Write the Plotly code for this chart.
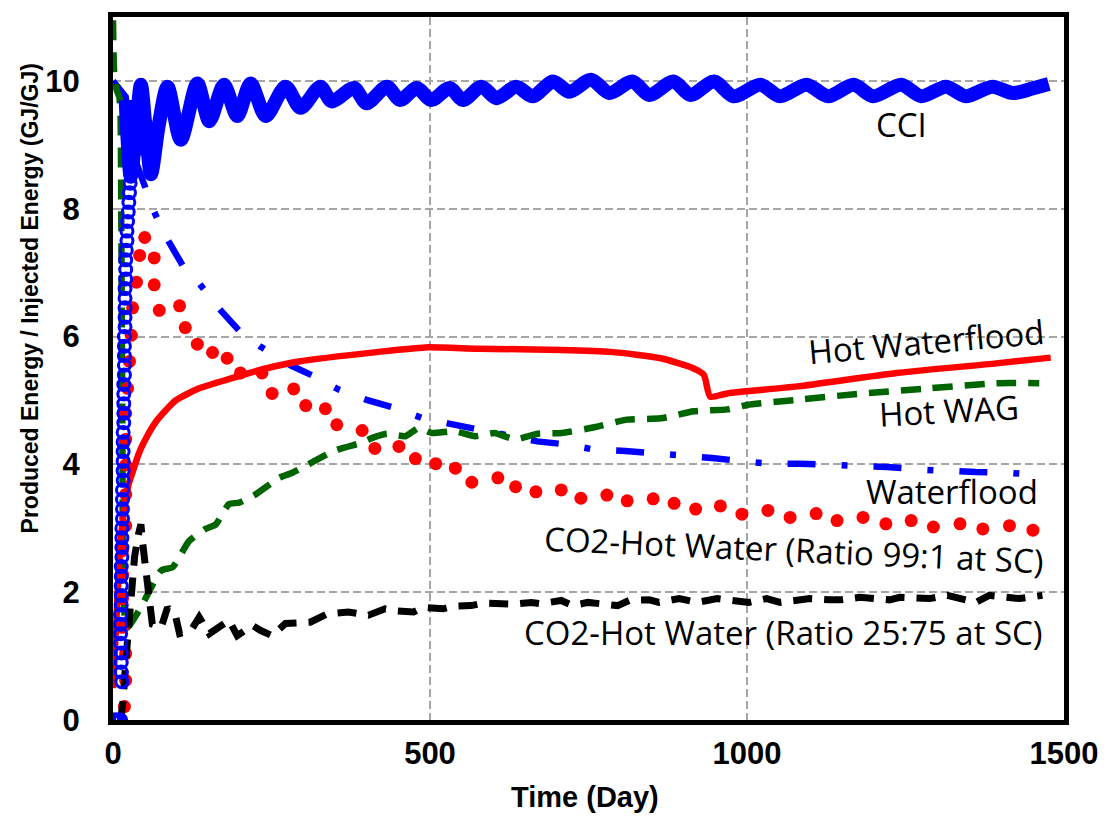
import plotly.graph_objects as go

# ---------------- data ----------------
# CCI (thick oscillating line)
cci_t = [20, 28, 36, 44, 52, 60, 72, 86, 107, 133, 152, 175, 196, 217, 241, 272, 296, 327, 345, 380,
         400, 432, 453, 479, 502, 531, 552, 581, 605, 636, 662, 694, 720, 754, 783, 819, 846, 884,
         911, 948, 979, 1021, 1052, 1094, 1128, 1168, 1199, 1243, 1275, 1314, 1345, 1387, 1419, 1450, 1476]
cci_v = [9.70, 8.50, 9.20, 9.94, 9.20, 8.54, 9.30, 9.91, 9.08, 9.96, 9.37, 9.94, 9.45, 9.96, 9.45, 9.91,
         9.58, 9.91, 9.68, 9.89, 9.65, 9.91, 9.70, 9.89, 9.70, 9.89, 9.70, 9.91, 9.73, 9.91, 9.76, 9.99,
         9.83, 10.02, 9.81, 9.99, 9.78, 9.99, 9.78, 9.99, 9.76, 9.94, 9.76, 9.94, 9.76, 9.94, 9.76, 9.94,
         9.76, 9.91, 9.76, 9.91, 9.81, 9.88, 9.95]

# CCI early points (open circle markers)
cci_pts_t = [0, 3, 6, 9, 12, 14, 13, 13, 13, 12, 12, 12, 12, 13, 13, 13, 13, 13, 14, 14, 14, 14, 15, 15,
             15, 15, 16, 16, 16, 16, 16, 16, 17, 17, 17, 17, 17, 18, 18, 18, 18, 18, 19, 19, 19, 19, 19,
             20, 20, 20, 21, 22, 22, 23, 24, 25, 26, 27, 28, 29, 29, 30, 30, 31, 38, 41, 44, 47, 50, 53, 56]
cci_pts_v = [0, 0, 0, 0, 0, 0.60, 0.75, 0.90, 1.05, 1.20, 1.35, 1.50, 1.65, 1.80, 1.95, 2.10, 2.25, 2.40,
             2.55, 2.70, 2.85, 3.00, 3.15, 3.30, 3.45, 3.60, 3.75, 3.90, 4.05, 4.20, 4.35, 4.50, 4.65, 4.80,
             4.95, 5.10, 5.25, 5.40, 5.55, 5.70, 5.85, 6.00, 6.15, 6.30, 6.45, 6.60, 6.75, 6.90, 7.05, 7.20,
             7.35, 7.50, 7.65, 7.80, 7.95, 8.10, 8.25, 8.40, 8.55, 8.70, 8.85, 9.00, 9.15, 9.30, 9.45, 9.20,
             8.95, 9.10, 9.35, 9.20, 9.00]

# Hot Waterflood (solid red)
hwf_t = [0, 5, 10, 15, 20, 25, 31, 40, 47, 68, 99, 136, 188, 241, 293, 419, 492, 576, 707, 785,
         864, 916, 932, 942, 969, 1079, 1236, 1393, 1479]
hwf_v = [0.50, 1.50, 2.50, 3.10, 3.45, 3.70, 3.88, 4.15, 4.31, 4.67, 5.00, 5.19, 5.35, 5.50, 5.61,
         5.76, 5.83, 5.81, 5.79, 5.76, 5.66, 5.50, 5.40, 5.06, 5.11, 5.22, 5.43, 5.58, 5.67]

# Hot WAG (green dashed)
wag_t = [0, 2, 6, 10, 12, 13, 14, 15, 16, 20, 24, 47, 76, 94, 120, 146, 162, 183, 199, 225, 262, 283,
         351, 393, 408, 432, 461, 482, 503, 539, 571, 602, 634, 670, 707, 759, 811, 864, 916, 969,
         1000, 1079, 1183, 1288, 1393, 1461]
wag_v = [10.95, 10.10, 9.85, 9.75, 9.40, 8.00, 6.00, 4.00, 2.10, 1.50, 1.45, 1.82, 2.34, 2.39, 2.80,
         2.99, 3.06, 3.38, 3.40, 3.53, 3.79, 3.87, 4.22, 4.34, 4.41, 4.48, 4.44, 4.57, 4.49, 4.52,
         4.44, 4.49, 4.39, 4.48, 4.49, 4.58, 4.70, 4.72, 4.83, 4.86, 4.93, 5.01, 5.11, 5.19, 5.27, 5.27]

# Waterflood (blue dash-dot)
wf_t = [0, 8, 20, 30, 52, 65, 84, 110, 136, 167, 201, 233, 280, 319, 356, 400, 445, 489, 534, 581, 623,
        669, 717, 759, 808, 853, 898, 945, 992, 1037, 1084, 1131, 1176, 1221, 1270, 1312, 1361, 1408, 1453]
wf_v = [10.00, 9.90, 9.75, 8.90, 8.34, 7.95, 7.55, 7.11, 6.83, 6.44, 6.07, 5.84, 5.55, 5.37, 5.17, 5.01,
        4.88, 4.72, 4.63, 4.54, 4.47, 4.36, 4.31, 4.23, 4.21, 4.18, 4.13, 4.10, 4.05, 4.01, 4.01, 4.00,
        3.97, 3.96, 3.92, 3.89, 3.88, 3.87, 3.84]

# CO2-Hot Water (Ratio 99:1 at SC) (red dots)
c99_t = [18, 20, 20, 15, 15, 15, 15, 20, 20, 20, 20, 20, 23, 26, 29, 31, 37, 42, 50, 65, 65, 73, 105,
         114, 133, 157, 180, 201, 235, 251, 285, 304, 335, 353, 393, 413, 451, 477, 509, 540, 566, 607,
         635, 667, 707, 738, 779, 811, 852, 885, 919, 958, 992, 1033, 1068, 1109, 1142, 1183, 1219, 1259,
         1294, 1336, 1372, 1414, 1451]
c99_v = [0.21, 0.62, 1.04, 1.45, 1.90, 2.28, 2.65, 3.04, 3.53, 3.99, 4.39, 4.80, 5.19, 5.61, 6.02, 6.45,
         6.85, 7.27, 7.55, 7.23, 6.81, 6.41, 6.48, 6.14, 5.88, 5.75, 5.66, 5.43, 5.43, 5.11, 5.18, 4.92,
         4.87, 4.62, 4.53, 4.25, 4.28, 4.09, 4.01, 3.94, 3.72, 3.79, 3.65, 3.57, 3.60, 3.47, 3.52, 3.43,
         3.46, 3.39, 3.30, 3.35, 3.22, 3.28, 3.17, 3.23, 3.12, 3.17, 3.07, 3.12, 3.02, 3.07, 2.99, 3.04, 2.97]

# CO2-Hot Water (Ratio 25:75 at SC) (black dashed)
c25_t = [12, 16, 20, 24, 28, 31, 34, 40, 44, 47, 50, 55, 58, 62, 76, 86, 99, 105, 123, 136, 152, 167,
         183, 196, 220, 233, 251, 272, 293, 311, 338, 371, 403, 429, 445, 474, 489, 521, 537, 565, 584,
         618, 631, 660, 675, 707, 725, 749, 767, 796, 814, 846, 861, 893, 921, 953, 1003, 1031, 1052,
         1079, 1099, 1131, 1147, 1178, 1194, 1225, 1241, 1272, 1288, 1316, 1335, 1361, 1382, 1414, 1430,
         1466]
c25_v = [0.00, 0.30, 0.90, 1.40, 1.75, 2.20, 2.55, 2.90, 3.06, 2.75, 2.50, 2.00, 1.62, 1.50, 1.45, 1.76,
         1.61, 1.35, 1.40, 1.61, 1.35, 1.45, 1.56, 1.32, 1.48, 1.40, 1.32, 1.51, 1.53, 1.53, 1.66, 1.69,
         1.64, 1.74, 1.71, 1.69, 1.76, 1.74, 1.78, 1.79, 1.83, 1.81, 1.81, 1.84, 1.82, 1.87, 1.79, 1.84,
         1.82, 1.79, 1.87, 1.88, 1.84, 1.90, 1.84, 1.90, 1.84, 1.90, 1.84, 1.87, 1.90, 1.88, 1.88, 1.92,
         1.90, 1.88, 1.92, 1.90, 1.90, 1.95, 1.90, 1.84, 1.95, 1.92, 1.90, 1.95]

x_ticks = [0, 500, 1000, 1500]
y_ticks = [0, 2, 4, 6, 8, 10]

labels = ["CCI", "Hot Waterflood", "Hot WAG", "Waterflood",
          "CO2-Hot Water (Ratio 99:1 at SC)", "CO2-Hot Water (Ratio 25:75 at SC)"]
label_t = [1243, 1283, 1319, 1324, 1074, 1058]
label_v = [9.32, 5.93, 4.84, 3.57, 2.67, 1.37]
label_angle = [0, -5, -3, 0, 2.6, 0]

# ---------------- figure ----------------
BLUE = "#0000ff"
RED = "#ff0000"
GREEN = "#006400"

fig = go.Figure()
fig.add_trace(go.Scatter(x=wf_t, y=wf_v, mode="lines",
                         line=dict(color=BLUE, width=6.5, dash="28px,26px,6px,26px")))
fig.add_trace(go.Scatter(x=wag_t, y=wag_v, mode="lines",
                         line=dict(color=GREEN, width=6.5, dash="20px,12px", shape="spline", smoothing=0.5)))
fig.add_trace(go.Scatter(x=hwf_t, y=hwf_v, mode="lines",
                         line=dict(color=RED, width=6.5, shape="spline", smoothing=0.6)))
fig.add_trace(go.Scatter(x=c99_t, y=c99_v, mode="markers",
                         marker=dict(color=RED, size=13, line=dict(width=0))))
fig.add_trace(go.Scatter(x=c25_t, y=c25_v, mode="lines",
                         line=dict(color="black", width=7, dash="19px,12px")))
fig.add_trace(go.Scatter(x=cci_t, y=cci_v, mode="lines",
                         line=dict(color=BLUE, width=14, shape="spline", smoothing=0.8)))
fig.add_trace(go.Scatter(x=cci_pts_t, y=cci_pts_v, mode="markers",
                         marker=dict(symbol="circle", size=12, color="rgba(0,0,0,0)",
                                     line=dict(color=BLUE, width=3))))

for txt, t, v, a in zip(labels, label_t, label_v, label_angle):
    fig.add_annotation(x=t, y=v, xref="x", yref="y", text=txt, showarrow=False,
                       textangle=a, xanchor="center", yanchor="middle",
                       font=dict(family="Open Sans", size=33, color="black"))

# axis titles as annotations
fig.add_annotation(x=-0.087, y=0.60, xref="paper", yref="paper",
                   text="Produced Energy / Injected Energy (GJ/GJ)", showarrow=False,
                   textangle=-90, xanchor="center", yanchor="middle",
                   font=dict(family="Liberation Sans", size=23, color="black", weight="bold"))
fig.add_annotation(x=0.496, y=-0.109, xref="paper", yref="paper",
                   text="Time (Day)", showarrow=False, xanchor="center", yanchor="middle",
                   font=dict(family="Liberation Sans", size=29, color="black", weight="bold"))

axis_common = dict(showgrid=True, gridcolor="#a6a6a6", gridwidth=2, griddash="8px,4px",
                   showline=True, linecolor="black", linewidth=5, mirror=True,
                   zeroline=False, ticks="outside", tickcolor="rgba(0,0,0,0)",
                   tickfont=dict(family="Liberation Sans", size=31, color="black", weight="bold"))

fig.update_xaxes(range=[0, 1500], tickvals=x_ticks, ticklen=2, **axis_common)
fig.update_yaxes(range=[0, 11], tickvals=y_ticks, ticklen=22, **axis_common)

fig.update_layout(width=1110, height=818, showlegend=False,
                  margin=dict(l=113, r=42, t=12, b=98),
                  plot_bgcolor="white", paper_bgcolor="white")

fig.write_html("out.html")
